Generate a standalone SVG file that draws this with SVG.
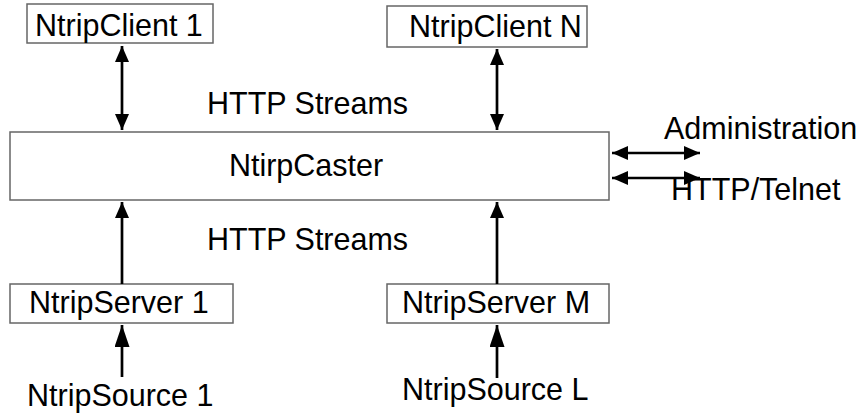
<svg xmlns="http://www.w3.org/2000/svg" width="863" height="414" viewBox="0 0 863 414">
<defs>
<marker id="ah" viewBox="0 0 16 14" refX="16" refY="7" markerWidth="16" markerHeight="14" markerUnits="userSpaceOnUse" orient="auto-start-reverse">
<path d="M0,0 L16,7 L0,14 z" fill="#000"/>
</marker>
<marker id="ahl" viewBox="0 0 22 15" refX="22" refY="7.5" markerWidth="22" markerHeight="15" markerUnits="userSpaceOnUse" orient="auto-start-reverse">
<path d="M0,0 L22,7.5 L0,15 z" fill="#000"/>
</marker>
<style>
.box{fill:#fff;stroke:#666;stroke-width:1.5}
.t{font-family:"Liberation Sans",Arial,sans-serif;font-size:30.5px;fill:#000}
.c{text-anchor:middle}
.ln{stroke:#000;stroke-width:2.7;fill:none}
</style>
</defs>
<rect width="863" height="414" fill="#fff"/>
<g id="client1"><rect class="box" x="27" y="4" width="186" height="39"/><text class="t" x="35" y="36">NtripClient 1</text></g>
<g id="clientN"><rect class="box" x="387" y="6" width="200" height="41"/><text class="t" x="409" y="37">NtripClient N</text></g>
<g id="caster"><rect class="box" x="10" y="132" width="599" height="68"/><text class="t c" x="306" y="176">NtirpCaster</text></g>
<g id="server1"><rect class="box" x="10" y="284" width="223" height="39"/><text class="t" x="29" y="313">NtripServer 1</text></g>
<g id="serverM"><rect class="box" x="387" y="284" width="222" height="39"/><text class="t" x="402" y="313">NtripServer M</text></g>
<g id="source1"><text class="t" x="27" y="406">NtripSource 1</text></g>
<g id="sourceL"><text class="t" x="402" y="400">NtripSource L</text></g>
<g id="labels">
<text class="t" x="207" y="114">HTTP Streams</text>
<text class="t" x="207" y="250">HTTP Streams</text>
<text class="t" x="664" y="139">Administration</text>
<text class="t" x="671" y="200">HTTP/Telnet</text>
</g>
<g id="connectors">
<line class="ln" x1="122" y1="46" x2="122" y2="130" marker-start="url(#ah)" marker-end="url(#ah)"/>
<line class="ln" x1="497" y1="49" x2="497" y2="130" marker-start="url(#ah)" marker-end="url(#ah)"/>
<line class="ln" x1="612" y1="153" x2="700" y2="153" marker-start="url(#ah)" marker-end="url(#ah)"/>
<line class="ln" x1="612" y1="178" x2="700" y2="178" marker-start="url(#ah)" marker-end="url(#ah)"/>
<line class="ln" x1="122" y1="284" x2="122" y2="202" marker-end="url(#ah)"/>
<line class="ln" x1="497" y1="284" x2="497" y2="202" marker-end="url(#ah)"/>
<line class="ln" x1="122" y1="377" x2="122" y2="325" marker-end="url(#ahl)"/>
<line class="ln" x1="497" y1="378" x2="497" y2="325" marker-end="url(#ahl)"/>
</g>
</svg>
